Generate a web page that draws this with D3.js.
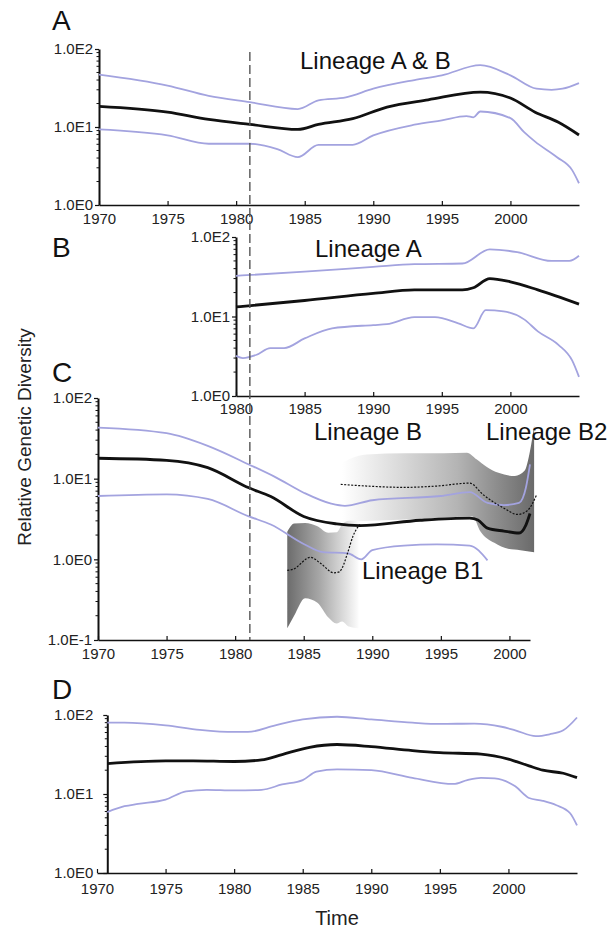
<!DOCTYPE html>
<html>
<head>
<meta charset="utf-8">
<script src="https://cdn.jsdelivr.net/npm/d3@7/dist/d3.min.js"></script>
<style>
  body { margin: 0; background: #fff; }
  svg { display: block; font-family: "Liberation Sans", Arial, Helvetica, sans-serif; }
</style>
</head>
<body>
<svg id="chart" width="609" height="932"></svg>
<script>
// ---- panel A : lineage A & B ----
const aUpperYears = [1970, 1975, 1978, 1981, 1984.5, 1986, 1988, 1990, 1993, 1995, 1997.8, 2000, 2001.9, 2003, 2003.8, 2005];
const aUpperVals  = [47, 34, 25, 20.8, 17, 22, 24, 31, 40, 46, 62, 46, 31, 30, 31, 36.6];
const aMeanYears  = [1970, 1975, 1978, 1981, 1984.5, 1986, 1988.5, 1991, 1994, 1997.8, 2000, 2001.8, 2003.5, 2005];
const aMeanVals   = [18.4, 15.5, 12.5, 10.8, 9.3, 10.8, 12.8, 18, 22.3, 28, 23.5, 15.5, 11.5, 7.9];
const aLowerYears = [1970, 1975, 1978, 1981, 1983, 1984.5, 1986, 1988.5, 1990, 1993, 1995, 1996.8, 1997.3, 1997.8, 2000, 2001, 2001.8, 2003.4, 2004.5, 2005];
const aLowerVals  = [9.3, 7.8, 6.1, 6.1, 5.2, 4.1, 5.9, 5.9, 7.8, 10.7, 12.2, 13.8, 13.3, 15.8, 13, 8.6, 6.5, 4.1, 2.8, 1.9];

// ---- panel B : lineage A ----
const bUpperYears = [1980, 1985, 1990, 1993, 1996.5, 1998.5, 2000.5, 2003, 2004.3, 2005];
const bUpperVals  = [32.5, 36.6, 42, 45.5, 46.4, 70, 64.5, 50, 50, 58];
const bMeanYears  = [1980, 1985, 1990, 1993, 1996.5, 1997.3, 1998.5, 2000, 2002, 2005];
const bMeanVals   = [13.2, 15.9, 19.5, 21.6, 21.6, 23, 30, 27.3, 21.6, 14.3];
const bLowerYears = [1980, 1980.5, 1981.5, 1982.5, 1983.5, 1985, 1987, 1990, 1991, 1993, 1994.5, 1996.2, 1997.3, 1998.2, 1999.5, 2001, 2002, 2003.5, 2004.5, 2005];
const bLowerVals  = [3.2, 3.0, 3.3, 4.0, 4.0, 5.3, 7.1, 7.8, 8.0, 9.8, 9.8, 8.2, 7.1, 12, 11.6, 9.2, 6.5, 4.4, 2.8, 1.74];

// ---- panel C : lineage B, B1, B2 ----
const cUpperYears = [1970, 1975, 1978, 1981, 1983, 1985, 1987, 1988, 1990, 1995, 1997.1, 1998.4, 1999.6, 2000.7, 2001.2, 2001.5];
const cUpperVals  = [43, 36.6, 25.5, 15, 10.3, 6.7, 4.9, 4.6, 5.4, 6.1, 6.8, 5.0, 4.7, 5.0, 7.7, 15];
const cMeanYears  = [1970, 1975, 1978, 1981, 1982.6, 1985, 1987.4, 1989.1, 1993.5, 1997.1, 1997.7, 1998.4, 1999.6, 2000.7, 2001.2, 2001.5];
const cMeanVals   = [17.9, 16.9, 13.7, 7.7, 6.0, 3.4, 2.75, 2.62, 3.05, 3.25, 3.07, 2.44, 2.24, 2.12, 2.66, 3.7];
const cLowerYears = [1970, 1975, 1978, 1981, 1982.6, 1985, 1986.4, 1988.2, 1989.2, 1990, 1992.3, 1994.7, 1997.1, 1998.4];
const cLowerVals  = [6.1, 6.4, 5.6, 3.4, 2.7, 1.55, 1.23, 1.19, 1.0, 1.3, 1.48, 1.53, 1.48, 0.97];

const b1Years      = [1983.8, 1984.2, 1985.5, 1986.2, 1987.2, 1987.6, 1987.8, 1988.2, 1988.6, 1989.1];
const b1Vals       = [0.73, 0.75, 1.06, 0.9, 0.68, 0.7, 0.78, 1.2, 1.95, 2.72];
const b1BandYears  = [1983.8, 1984.3, 1985.1, 1986, 1986.8, 1987.4, 1987.8, 1988.3, 1989];
const b1BandHigh   = [2.2, 2.78, 2.83, 2.57, 2.13, 2.16, 2.7, 3.0, 3.0];
const b1BandLow    = [0.14, 0.2, 0.33, 0.29, 0.19, 0.16, 0.17, 0.147, 0.14];

const b2Years      = [1987.7, 1989.6, 1992.3, 1994.7, 1997.1, 1998.1, 1999.6, 2000.6, 2001.3, 2002];
const b2Vals       = [8.5, 8.1, 7.8, 8.1, 8.8, 6.3, 4.3, 3.6, 4.0, 6.4];
const b2HighYears  = [1987.6, 1988.3, 1989.6, 1992.4, 1995.2, 1996.9, 1997.6, 1998.3, 1999.2, 2000.4, 2001.1, 2001.5, 2001.8];
const b2HighVals   = [15, 17.4, 20, 20.7, 20.7, 21, 17.4, 14.2, 11.8, 10.8, 12.5, 22, 45];
const b2LowYears   = [1987.6, 1990, 1994, 1997.3, 1997.9, 1998.9, 1999.9, 2000.8, 2001.8];
const b2LowVals    = [2.9, 3.0, 3.2, 3.4, 2.2, 1.6, 1.35, 1.3, 1.22];

// ---- panel D ----
const dUpperYears = [1970.75, 1972, 1975, 1977.5, 1980, 1981, 1983, 1985, 1987.5, 1990, 1993, 1995, 1997.5, 1999.5, 2000.5, 2002, 2003, 2004, 2005];
const dUpperVals  = [80, 80, 74, 65, 61, 61, 74, 88, 95, 88, 80, 77, 78, 71, 64, 54, 57, 64, 93];
const dMeanYears  = [1970.75, 1975, 1977, 1980, 1982, 1983.5, 1985.5, 1987.5, 1990, 1993, 1995, 1998, 2000, 2001.5, 2002.5, 2004, 2005];
const dMeanVals   = [24.3, 26.3, 26.3, 25.8, 27, 31.6, 39, 42.3, 39.8, 35.4, 33.4, 32, 27.7, 22.7, 20, 18.3, 16.1];
const dLowerYears = [1970.75, 1972, 1973, 1975, 1976.5, 1978, 1980, 1982, 1983.5, 1985, 1986, 1987.5, 1990, 1993, 1996, 1997, 1998, 1999, 2000.5, 2001.5, 2002.5, 2003.5, 2004.5, 2005];
const dLowerVals  = [5.9, 7.0, 7.5, 8.5, 10.8, 11.3, 11.1, 11.3, 13.2, 15, 19.2, 20.5, 20, 16, 13.4, 15, 16, 15.8, 12.5, 8.9, 8.2, 7.2, 5.7, 4.0];

const decadeTicks = [1, 10, 100];
const decadeTicksC = [0.1, 1, 10, 100];
const yearTicks = [1970, 1975, 1980, 1985, 1990, 1995, 2000];
const yearTicksB = [1980, 1985, 1990, 1995, 2000];

const BLUE = "#a3a3df";
const INK = "#111";

const svg = d3.select("#chart");

const zip = (xs, ys) => xs.map((x, i) => [x, ys[i]]);

// one panel = its scales + axes
function makePanel(xDomain, xRange, yDomain, yRange, yAxisYear, xTicks, yTicks, xPad, yPad) {
    const x = d3.scaleLinear().domain(xDomain).range(xRange);
    const y = d3.scaleLog().domain(yDomain).range(yRange);
    const g = svg.append("g");

    const xAxis = d3.axisBottom(x)
        .tickValues(xTicks)
        .tickFormat(d3.format("d"))
        .tickSizeInner(-4)
        .tickSizeOuter(0)
        .tickPadding(xPad);
    const gx = g.append("g")
        .attr("transform", `translate(0,${ yRange[0] })`)
        .call(xAxis);
    gx.select(".domain").attr("stroke", INK).attr("stroke-width", 1.6);
    gx.selectAll(".tick line").attr("stroke", INK).attr("stroke-width", 1.2);
    gx.selectAll("text").attr("font-size", 15).attr("fill", "#222");

    const yAxis = d3.axisLeft(y)
        .tickValues(yTicks)
        .tickFormat(d => "1.0E" + Math.round(Math.log10(d)))
        .tickSizeInner(4)
        .tickSizeOuter(0)
        .tickPadding(yPad);
    const gy = g.append("g")
        .attr("transform", `translate(${ x(yAxisYear) },0)`)
        .call(yAxis);
    gy.select(".domain").attr("stroke", INK).attr("stroke-width", 2);
    gy.selectAll(".tick line").attr("stroke", INK).attr("stroke-width", 1.2);
    gy.selectAll("text").attr("font-size", 15).attr("fill", "#222");

    // minor log ticks (2..9 of each decade)
    const minor = [];
    for (let i = 0; i < yTicks.length - 1; i++) {
        for (let k = 2; k <= 9; k++) minor.push(yTicks[i] * k);
    }
    gy.selectAll(".minor")
        .data(minor)
        .enter()
        .append("line")
        .attr("x1", 0).attr("x2", -2.5)
        .attr("y1", d => y(d)).attr("y2", d => y(d))
        .attr("stroke", INK)
        .attr("stroke-width", 1);

    return { x, y, g };
}

function drawLine(p, years, vals, color, width, dash) {
    const line = d3.line()
        .x(d => p.x(d[0]))
        .y(d => p.y(d[1]))
        .curve(d3.curveMonotoneX);
    p.g.append("path")
        .datum(zip(years, vals))
        .attr("d", line)
        .attr("fill", "none")
        .attr("stroke", color)
        .attr("stroke-width", width)
        .attr("stroke-linejoin", "round")
        .attr("stroke-dasharray", dash || null);
}

// filled band between a high edge and a low edge
function drawBand(p, hiYears, hiVals, loYears, loVals, fill) {
    const edge = d3.line()
        .x(d => p.x(d[0]))
        .y(d => p.y(d[1]))
        .curve(d3.curveMonotoneX);
    const hi = edge(zip(hiYears, hiVals));
    const lo = edge(zip(loYears, loVals).reverse()).replace(/^M/, "L");
    p.g.append("path")
        .attr("d", hi + lo + "Z")
        .attr("fill", fill)
        .attr("stroke", "none");
}

function gradient(id, x1, x2, stops) {
    const grad = svg.append("defs").append("linearGradient")
        .attr("id", id)
        .attr("gradientUnits", "userSpaceOnUse")
        .attr("x1", x1).attr("x2", x2)
        .attr("y1", 0).attr("y2", 0);
    stops.forEach(s => grad.append("stop")
        .attr("offset", s[0])
        .attr("stop-color", s[1]));
}

// ---- panels ----
const pA = makePanel([1970, 2005], [99, 579], [1, 100], [205, 49], 1970, yearTicks, decadeTicks, 8, 2);
const pB = makePanel([1980, 2005], [236, 579], [1, 100], [396, 237], 1980, yearTicksB, decadeTicks, 7, 2);
const pC = makePanel([1970, 2001.5], [98, 530], [0.1, 100], [640, 398], 1970, yearTicks, decadeTicksC, 8, 2);
const pD = makePanel([1970, 2005], [97, 577], [1, 100], [873, 715], 1970.75, yearTicks, decadeTicks, 10, 10);

// panel C shaded sub-lineage bands (drawn under the lines)
gradient("b1grad", pC.x(1983.8), pC.x(1989.1), [[0, "#6c6c6c"], [0.45, "#a8a8a8"], [1, "#ffffff"]]);
gradient("b2grad", pC.x(1987.8), pC.x(2001.8), [[0, "#ffffff"], [0.3, "#dadada"], [0.6, "#b4b4b4"], [0.8, "#8e8e8e"], [1, "#6a6a6a"]]);
drawBand(pC, b2HighYears, b2HighVals, b2LowYears, b2LowVals, "url(#b2grad)");
drawBand(pC, b1BandYears, b1BandHigh, b1BandYears, b1BandLow, "url(#b1grad)");

// confidence lines + mean
[[pA, aUpperYears, aUpperVals], [pA, aLowerYears, aLowerVals],
 [pB, bUpperYears, bUpperVals], [pB, bLowerYears, bLowerVals],
 [pC, cUpperYears, cUpperVals], [pC, cLowerYears, cLowerVals],
 [pD, dUpperYears, dUpperVals], [pD, dLowerYears, dLowerVals]]
    .forEach(s => drawLine(s[0], s[1], s[2], BLUE, 1.8));

[[pA, aMeanYears, aMeanVals], [pB, bMeanYears, bMeanVals],
 [pC, cMeanYears, cMeanVals], [pD, dMeanYears, dMeanVals]]
    .forEach(s => drawLine(s[0], s[1], s[2], INK, 2.8));

drawLine(pC, b1Years, b1Vals, INK, 1.2, "2,1.5");
drawLine(pC, b2Years, b2Vals, INK, 1.2, "2,1.5");

// 1981 marker across A, B and C
svg.append("line")
    .attr("x1", pA.x(1981)).attr("x2", pA.x(1981))
    .attr("y1", 52).attr("y2", 640)
    .attr("stroke", "#555")
    .attr("stroke-width", 1.4)
    .attr("stroke-dasharray", "9,4");

// ---- text ----
const panelLetters = [["A", 30], ["B", 257], ["C", 382], ["D", 699]];
svg.selectAll(".panel-letter")
    .data(panelLetters)
    .enter()
    .append("text")
    .attr("x", 52)
    .attr("y", d => d[1])
    .attr("font-size", 28)
    .attr("fill", INK)
    .text(d => d[0]);

const lineageLabels = [["Lineage A & B", 300, 69], ["Lineage A", 315, 257], ["Lineage B", 314, 440],
                       ["Lineage B2", 486, 440], ["Lineage B1", 362, 579]];
svg.selectAll(".lineage")
    .data(lineageLabels)
    .enter()
    .append("text")
    .attr("x", d => d[1])
    .attr("y", d => d[2])
    .attr("font-size", 24)
    .attr("fill", INK)
    .text(d => d[0]);

svg.append("text")
    .attr("transform", "translate(31,437) rotate(-90)")
    .attr("text-anchor", "middle")
    .attr("font-size", 19)
    .attr("fill", "#222")
    .text("Relative Genetic Diversity");

svg.append("text")
    .attr("x", 337)
    .attr("y", 925)
    .attr("text-anchor", "middle")
    .attr("font-size", 20)
    .attr("fill", "#222")
    .text("Time");
</script>
</body>
</html>
